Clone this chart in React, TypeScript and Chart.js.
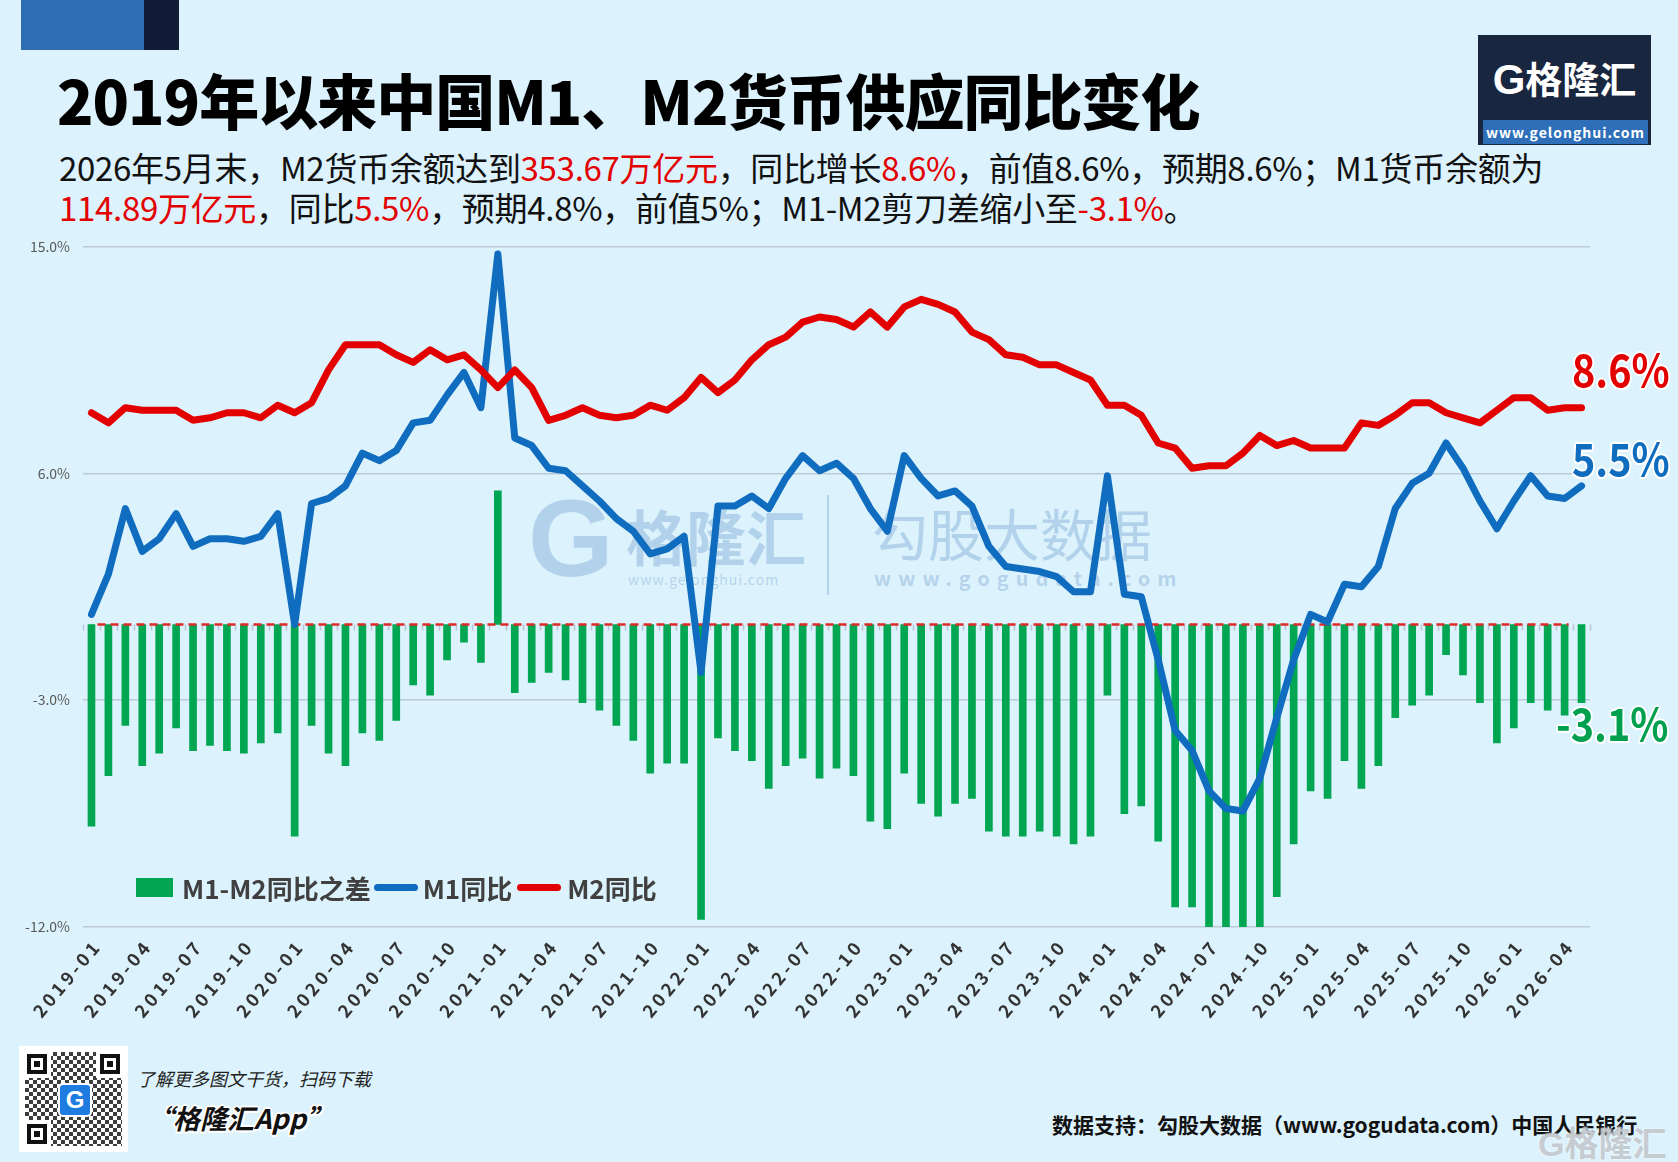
import React, { useEffect, useRef } from 'react';
import { Chart, registerables } from 'chart.js';

Chart.register(...registerables);

// ---------- DATA ----------
const MONTHS = [
  '2019-01','2019-02','2019-03','2019-04','2019-05','2019-06','2019-07','2019-08','2019-09','2019-10','2019-11','2019-12',
  '2020-01','2020-02','2020-03','2020-04','2020-05','2020-06','2020-07','2020-08','2020-09','2020-10','2020-11','2020-12',
  '2021-01','2021-02','2021-03','2021-04','2021-05','2021-06','2021-07','2021-08','2021-09','2021-10','2021-11','2021-12',
  '2022-01','2022-02','2022-03','2022-04','2022-05','2022-06','2022-07','2022-08','2022-09','2022-10','2022-11','2022-12',
  '2023-01','2023-02','2023-03','2023-04','2023-05','2023-06','2023-07','2023-08','2023-09','2023-10','2023-11','2023-12',
  '2024-01','2024-02','2024-03','2024-04','2024-05','2024-06','2024-07','2024-08','2024-09','2024-10','2024-11','2024-12',
  '2025-01','2025-02','2025-03','2025-04','2025-05','2025-06','2025-07','2025-08','2025-09','2025-10','2025-11','2025-12',
  '2026-01','2026-02','2026-03','2026-04','2026-05',
];

const M1_YOY = [
  0.4, 2.0, 4.6, 2.9, 3.4, 4.4, 3.1, 3.4, 3.4, 3.3, 3.5, 4.4,
  0.0, 4.8, 5.0, 5.5, 6.8, 6.5, 6.9, 8.0, 8.1, 9.1, 10.0, 8.6,
  14.7, 7.4, 7.1, 6.2, 6.1, 5.5, 4.9, 4.2, 3.7, 2.8, 3.0, 3.5,
  -1.9, 4.7, 4.7, 5.1, 4.6, 5.8, 6.7, 6.1, 6.4, 5.8, 4.6, 3.7,
  6.7, 5.8, 5.1, 5.3, 4.7, 3.1, 2.3, 2.2, 2.1, 1.9, 1.3, 1.3,
  5.9, 1.2, 1.1, -1.4, -4.2, -5.0, -6.6, -7.3, -7.4, -6.1, -3.7, -1.4,
  0.4, 0.1, 1.6, 1.5, 2.3, 4.6, 5.6, 6.0, 7.2, 6.2, 4.9, 3.8,
  4.9, 5.9, 5.1, 5.0, 5.5,
];

const M2_YOY = [
  8.4, 8.0, 8.6, 8.5, 8.5, 8.5, 8.1, 8.2, 8.4, 8.4, 8.2, 8.7,
  8.4, 8.8, 10.1, 11.1, 11.1, 11.1, 10.7, 10.4, 10.9, 10.5, 10.7, 10.1,
  9.4, 10.1, 9.4, 8.1, 8.3, 8.6, 8.3, 8.2, 8.3, 8.7, 8.5, 9.0,
  9.8, 9.2, 9.7, 10.5, 11.1, 11.4, 12.0, 12.2, 12.1, 11.8, 12.4, 11.8,
  12.6, 12.9, 12.7, 12.4, 11.6, 11.3, 10.7, 10.6, 10.3, 10.3, 10.0, 9.7,
  8.7, 8.7, 8.3, 7.2, 7.0, 6.2, 6.3, 6.3, 6.8, 7.5, 7.1, 7.3,
  7.0, 7.0, 7.0, 8.0, 7.9, 8.3, 8.8, 8.8, 8.4, 8.2, 8.0, 8.5,
  9.0, 9.0, 8.5, 8.6, 8.6,
];

const M1_M2_GAP = [
  -8.0, -6.0, -4.0, -5.6, -5.1, -4.1, -5.0, -4.8, -5.0, -5.1, -4.7, -4.3,
  -8.4, -4.0, -5.1, -5.6, -4.3, -4.6, -3.8, -2.4, -2.8, -1.4, -0.7, -1.5,
  5.3, -2.7, -2.3, -1.9, -2.2, -3.1, -3.4, -4.0, -4.6, -5.9, -5.5, -5.5,
  -11.7, -4.5, -5.0, -5.4, -6.5, -5.6, -5.3, -6.1, -5.7, -6.0, -7.8, -8.1,
  -5.9, -7.1, -7.6, -7.1, -6.9, -8.2, -8.4, -8.4, -8.2, -8.4, -8.7, -8.4,
  -2.8, -7.5, -7.2, -8.6, -11.2, -11.2, -12.9, -13.6, -14.2, -13.6, -10.8, -8.7,
  -6.6, -6.9, -5.4, -6.5, -5.6, -3.7, -3.2, -2.8, -1.2, -2.0, -3.1, -4.7,
  -4.1, -3.1, -3.4, -3.6, -3.1,
];

const X_TICK_LABELS = [
  '2019-01','2019-04','2019-07','2019-10','2020-01','2020-04','2020-07','2020-10',
  '2021-01','2021-04','2021-07','2021-10','2022-01','2022-04','2022-07','2022-10',
  '2023-01','2023-04','2023-07','2023-10','2024-01','2024-04','2024-07','2024-10',
  '2025-01','2025-04','2025-07','2025-10','2026-01','2026-04',
];

const Y_TICKS = [-12, -3, 6, 15];

const SERIES_NAMES = ['M1-M2同比之差', 'M1同比', 'M2同比'];
const LAST_LABELS = ['-3.1%', '5.5%', '8.6%'];

// ---------- STYLE ----------
const CJK = '"Noto Sans CJK SC", "Noto Sans", sans-serif';
const BG = '#dcf2fc';
const GREEN = '#00a651';
const BLUE = '#0f6cbf';
const RED = '#e30000';

const halo = '2px 0 0 #fff, -2px 0 0 #fff, 0 2px 0 #fff, 0 -2px 0 #fff, 1.5px 1.5px 0 #fff, -1.5px -1.5px 0 #fff, 1.5px -1.5px 0 #fff, -1.5px 1.5px 0 #fff';

export default function App() {
  const canvasRef = useRef<HTMLCanvasElement | null>(null);

  useEffect(() => {
    document.body.style.margin = '0';
    const canvas = canvasRef.current;
    if (!canvas) return;

    const zeroLinePlugin = {
      id: 'zeroLine',
      afterDatasetDraw(chart: any, args: any) {
        if (args.index !== 0) return;
        const { ctx, chartArea, scales } = chart;
        const y = scales.y.getPixelForValue(0);
        const n = MONTHS.length;
        const w = (chartArea.right - chartArea.left) / n;
        ctx.save();
        ctx.strokeStyle = '#b7c7d5';
        ctx.lineWidth = 1.5;
        for (let k = 0; k <= n; k++) {
          const px = Math.round(chartArea.left + k * w) + 0.5;
          ctx.beginPath();
          ctx.moveTo(px, y);
          ctx.lineTo(px, y + 6);
          ctx.stroke();
        }
        ctx.setLineDash([8, 5]);
        ctx.strokeStyle = '#e02a2a';
        ctx.lineWidth = 2.5;
        ctx.beginPath();
        ctx.moveTo(scales.x.getPixelForValue(0) + 6, y);
        ctx.lineTo(scales.x.getPixelForValue(n - 2) + 4, y);
        ctx.stroke();
        ctx.restore();
      },
    };

    const spacingPlugin = {
      id: 'xLabelSpacing',
      beforeDraw(chart: any) {
        (chart.ctx as any).letterSpacing = '3.5px';
      },
      beforeDatasetsDraw(chart: any) {
        (chart.ctx as any).letterSpacing = '0px';
      },
    };

    const chart = new Chart(canvas, {
      type: 'bar',
      data: {
        labels: MONTHS,
        datasets: [
          {
            type: 'bar',
            label: SERIES_NAMES[0],
            data: M1_M2_GAP,
            backgroundColor: GREEN,
            barThickness: 7,
            order: 3,
          } as any,
          {
            type: 'line',
            label: SERIES_NAMES[1],
            data: M1_YOY,
            borderColor: BLUE,
            backgroundColor: BLUE,
            borderWidth: 7,
            pointRadius: 0,
            tension: 0,
            borderJoinStyle: 'round',
            borderCapStyle: 'round',
            order: 2,
          } as any,
          {
            type: 'line',
            label: SERIES_NAMES[2],
            data: M2_YOY,
            borderColor: RED,
            backgroundColor: RED,
            borderWidth: 7,
            pointRadius: 0,
            tension: 0,
            borderJoinStyle: 'round',
            borderCapStyle: 'round',
            order: 1,
          } as any,
        ],
      },
      options: {
        responsive: false,
        maintainAspectRatio: false,
        animation: false,
        layout: { padding: { top: 11, right: 88, bottom: 0, left: 0 } },
        plugins: {
          legend: { display: false },
          tooltip: { enabled: false },
        },
        scales: {
          x: {
            offset: true,
            grid: { display: false, drawTicks: false },
            border: { display: false },
            ticks: {
              autoSkip: false,
              minRotation: 50,
              maxRotation: 50,
              padding: 8,
              labelOffset: 6,
              color: '#333333',
              font: { family: CJK, size: 18, weight: 'bold' },
              callback: (_v: any, i: number) => (X_TICK_LABELS.includes(MONTHS[i]) ? MONTHS[i] : ''),
            },
            afterFit: (s: any) => { s.height = 123; },
          },
          y: {
            min: -12,
            max: 15,
            afterBuildTicks: (s: any) => { s.ticks = Y_TICKS.map((v) => ({ value: v })); },
            grid: { color: '#bccad6', lineWidth: 1.5, drawTicks: false },
            border: { display: false },
            ticks: {
              z: 1,
              padding: 13,
              color: '#595959',
              font: { family: CJK, size: 14 },
              callback: (v: any) => Number(v).toFixed(1) + '%',
            },
            afterFit: (s: any) => { s.width = 83; },
          },
        },
      } as any,
      plugins: [zeroLinePlugin, spacingPlugin],
    });

    return () => chart.destroy();
  }, []);

  const abs = (s: React.CSSProperties): React.CSSProperties => ({ position: 'absolute', ...s });
  const wm = 'rgba(95,145,200,0.33)';
  const endLabel: React.CSSProperties = { fontSize: 45, fontWeight: 700, lineHeight: '48px', textShadow: halo, zIndex: 2, transform: 'scaleX(0.88)', transformOrigin: 'left center', whiteSpace: 'nowrap' };

  return (
    <div style={abs({ left: 0, top: 0, width: 1678, height: 1162, background: BG, overflow: 'hidden', fontFamily: CJK })}>
      {/* top decoration */}
      <div style={abs({ left: 21, top: 0, width: 123, height: 50, background: '#2e6cb4' })} />
      <div style={abs({ left: 144, top: 0, width: 35, height: 50, background: '#131c36' })} />

      {/* logo */}
      <div style={abs({ left: 1478, top: 35, width: 173, height: 110, background: '#182640' })}>
        <div style={abs({ left: 0, top: 18, width: 173, height: 50, textAlign: 'center', color: '#fff', fontSize: 37, fontWeight: 700, lineHeight: '50px', whiteSpace: 'nowrap' })}>
          <span style={{ fontFamily: '"Liberation Sans", sans-serif', fontWeight: 900, fontSize: 42 }}>G</span>格隆汇
        </div>
        <div style={abs({ left: 5, top: 85, width: 165, height: 24, background: '#2f6fba', color: '#fff', fontSize: 14, fontWeight: 700, lineHeight: '24px', textAlign: 'center', letterSpacing: 1 })}>
          www.gelonghui.com
        </div>
      </div>

      {/* title */}
      <div style={abs({ left: 57, top: 59, fontSize: 60, fontWeight: 900, color: '#000', lineHeight: '80px', whiteSpace: 'nowrap', letterSpacing: -1 })}>
        2019年以来中国M1、M2货币供应同比变化
      </div>
      <div style={abs({ left: 59, top: 147, fontSize: 33, color: '#111', lineHeight: '40px', whiteSpace: 'nowrap', letterSpacing: -0.3 })}>
        2026年5月末，M2货币余额达到<span style={{ color: RED }}>353.67万亿元</span>，同比增长<span style={{ color: RED }}>8.6%</span>，前值8.6%，预期8.6%；M1货币余额为
      </div>
      <div style={abs({ left: 59, top: 187, fontSize: 33, color: '#111', lineHeight: '40px', whiteSpace: 'nowrap', letterSpacing: -0.3 })}>
        <span style={{ color: RED }}>114.89万亿元</span>，同比<span style={{ color: RED }}>5.5%</span>，预期4.8%，前值5%；M1-M2剪刀差缩小至<span style={{ color: RED }}>-3.1%</span>。
      </div>

      {/* watermark behind chart */}
      <div style={abs({ left: 528, top: 478, fontSize: 110, fontWeight: 900, color: wm, lineHeight: '120px', fontFamily: '"Liberation Sans", sans-serif' })}>G</div>
      <div style={abs({ left: 626, top: 500, fontSize: 60, fontWeight: 700, color: wm, lineHeight: '70px', whiteSpace: 'nowrap' })}>格隆汇</div>
      <div style={abs({ left: 628, top: 570, fontSize: 14, color: wm, lineHeight: '18px', letterSpacing: 1, whiteSpace: 'nowrap' })}>www.gelonghui.com</div>
      <div style={abs({ left: 827, top: 495, width: 2, height: 100, background: wm })} />
      <div style={abs({ left: 872, top: 498, fontSize: 56, fontWeight: 400, color: wm, lineHeight: '68px', whiteSpace: 'nowrap' })}>勾股大数据</div>
      <div style={abs({ left: 874, top: 565, fontSize: 20, fontWeight: 700, color: wm, lineHeight: '26px', letterSpacing: 7, whiteSpace: 'nowrap' })}>www.gogudata.com</div>

      <canvas ref={canvasRef} width={1678} height={825} style={abs({ left: 0, top: 225, width: 1678, height: 825, zIndex: 1 })} />

      {/* legend */}
      <div style={abs({ left: 136, top: 869, height: 36, display: 'flex', alignItems: 'center', zIndex: 2, fontSize: 26, fontWeight: 600, color: '#404040', whiteSpace: 'nowrap' })}>
        <div style={{ width: 37, height: 19, background: GREEN, marginRight: 9 }} />
        <span>{SERIES_NAMES[0]}</span>
        <div style={{ width: 44, height: 7, borderRadius: 4, background: BLUE, margin: '0 5px 0 3px' }} />
        <span>{SERIES_NAMES[1]}</span>
        <div style={{ width: 44, height: 7, borderRadius: 4, background: RED, margin: '0 6px 0 5px' }} />
        <span>{SERIES_NAMES[2]}</span>
      </div>

      {/* end labels */}
      <div style={abs({ ...endLabel, left: 1572, top: 344, color: RED })}>{LAST_LABELS[2]}</div>
      <div style={abs({ ...endLabel, left: 1572, top: 433, color: BLUE })}>{LAST_LABELS[1]}</div>
      <div style={abs({ ...endLabel, left: 1556, top: 698, color: '#00a04e' })}>{LAST_LABELS[0]}</div>

      {/* footer: QR */}
      <div style={abs({ left: 19, top: 1046, width: 109, height: 106, background: '#fff' })}>
        <div style={abs({ left: 6, top: 6, width: 97, height: 94, backgroundImage: 'repeating-conic-gradient(#1b1b1b 0 25%, #fff 0 50%)', backgroundSize: '8px 8px', opacity: 0.85 })} />
        {[[4, 4], [77, 4], [4, 74]].map(([l, t], k) => (
          <div key={k} style={abs({ left: l, top: t, width: 28, height: 28, background: '#fff', display: 'flex', alignItems: 'center', justifyContent: 'center' })}>
            <div style={{ width: 20, height: 20, border: '4px solid #111', boxSizing: 'border-box', display: 'flex', alignItems: 'center', justifyContent: 'center' }}>
              <div style={{ width: 6, height: 6, background: '#111' }} />
            </div>
          </div>
        ))}
        <div style={abs({ left: 39, top: 37, width: 30, height: 30, background: '#1e7ce0', borderRadius: 5, border: '2px solid #fff', color: '#fff', fontFamily: '"Liberation Sans", sans-serif', fontWeight: 900, fontSize: 24, lineHeight: '30px', textAlign: 'center' })}>G</div>
      </div>
      <div style={abs({ left: 137, top: 1066, fontSize: 18, fontStyle: 'italic', color: '#222', lineHeight: '24px', whiteSpace: 'nowrap' })}>了解更多图文干货，扫码下载</div>
      <div style={abs({ left: 146, top: 1100, fontSize: 27, fontStyle: 'italic', fontWeight: 700, color: '#111', lineHeight: '36px', whiteSpace: 'nowrap', textShadow: halo })}>“格隆汇App”</div>
      <div style={abs({ left: 1052, top: 1110, fontSize: 21, fontWeight: 700, color: '#111', lineHeight: '28px', whiteSpace: 'nowrap' })}>数据支持：勾股大数据（www.gogudata.com）中国人民银行</div>
      <div style={abs({ left: 1538, top: 1120, fontSize: 34, fontWeight: 700, color: 'rgba(150,160,170,0.55)', lineHeight: '44px', whiteSpace: 'nowrap', textShadow: '0 0 2px #fff' })}>
        <span style={{ fontFamily: '"Liberation Sans", sans-serif', fontWeight: 900 }}>G</span>格隆汇
      </div>
    </div>
  );
}
